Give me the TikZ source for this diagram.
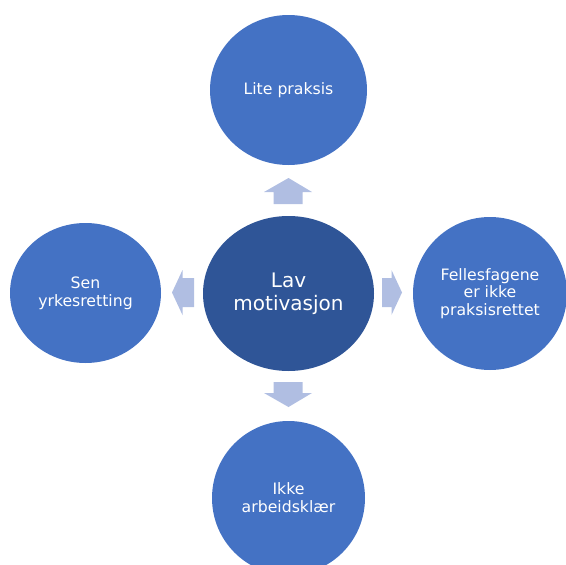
\documentclass[tikz,border=0pt]{standalone}
\usepackage{fontspec}
\setmainfont{DejaVu Sans}
\usetikzlibrary{shapes.geometric}
\definecolor{outerblue}{HTML}{4472C4}
\definecolor{innerblue}{HTML}{2F5597}
\definecolor{arrowblue}{RGB}{176,190,226}
\tikzset{
  outer/.style={ellipse, fill=outerblue, inner sep=0pt, text=white, align=center,
    font=\fontsize{15.7pt}{17.8pt}\selectfont},
  inner/.style={ellipse, fill=innerblue, inner sep=0pt, text=white, align=center,
    font=\fontsize{20pt}{23pt}\selectfont},
  blockarrow/.style={fill=arrowblue}
}
\begin{document}
\begin{tikzpicture}[x=1pt,y=-1pt]
\useasboundingbox (0,0) rectangle (566,565);
\clip (0,0) rectangle (566,565);
\node[outer, minimum width=157pt, minimum height=150pt] (top) at (288.5,90) {Lite praksis};
\node[outer, minimum width=151pt, minimum height=140pt] (left) at (85.5,293) {Sen\\yrkesretting};
\node[inner, minimum width=171pt, minimum height=155pt] (ctr) at (288.5,293.5) {Lav\\motivasjon};
\node[outer, minimum width=154pt, minimum height=153pt] (right) at (490,293.5) {Fellesfagene\\er ikke\\praksisrettet};
\node[outer, minimum width=153pt, minimum height=154pt] (bottom) at (288.5,498) {Ikke\\arbeidskl\ae r};
% up arrow
\fill[blockarrow] (288.5,178) -- (312,192) -- (302.5,192) -- (302.5,204) -- (273.5,204) -- (273.5,192) -- (264,192) -- cycle;
% down arrow
\fill[blockarrow] (288.5,407) -- (312,393) -- (302.5,393) -- (302.5,382) -- (273.5,382) -- (273.5,393) -- (264,393) -- cycle;
% left arrow
\fill[blockarrow] (172,292.5) -- (182.5,270) -- (182.5,278) -- (194,278) -- (194,307) -- (182.5,307) -- (182.5,315) -- cycle;
% right arrow
\fill[blockarrow] (402,292.5) -- (391.5,270) -- (391.5,278) -- (382,278) -- (382,307) -- (391.5,307) -- (391.5,315) -- cycle;
\end{tikzpicture}
\end{document}
